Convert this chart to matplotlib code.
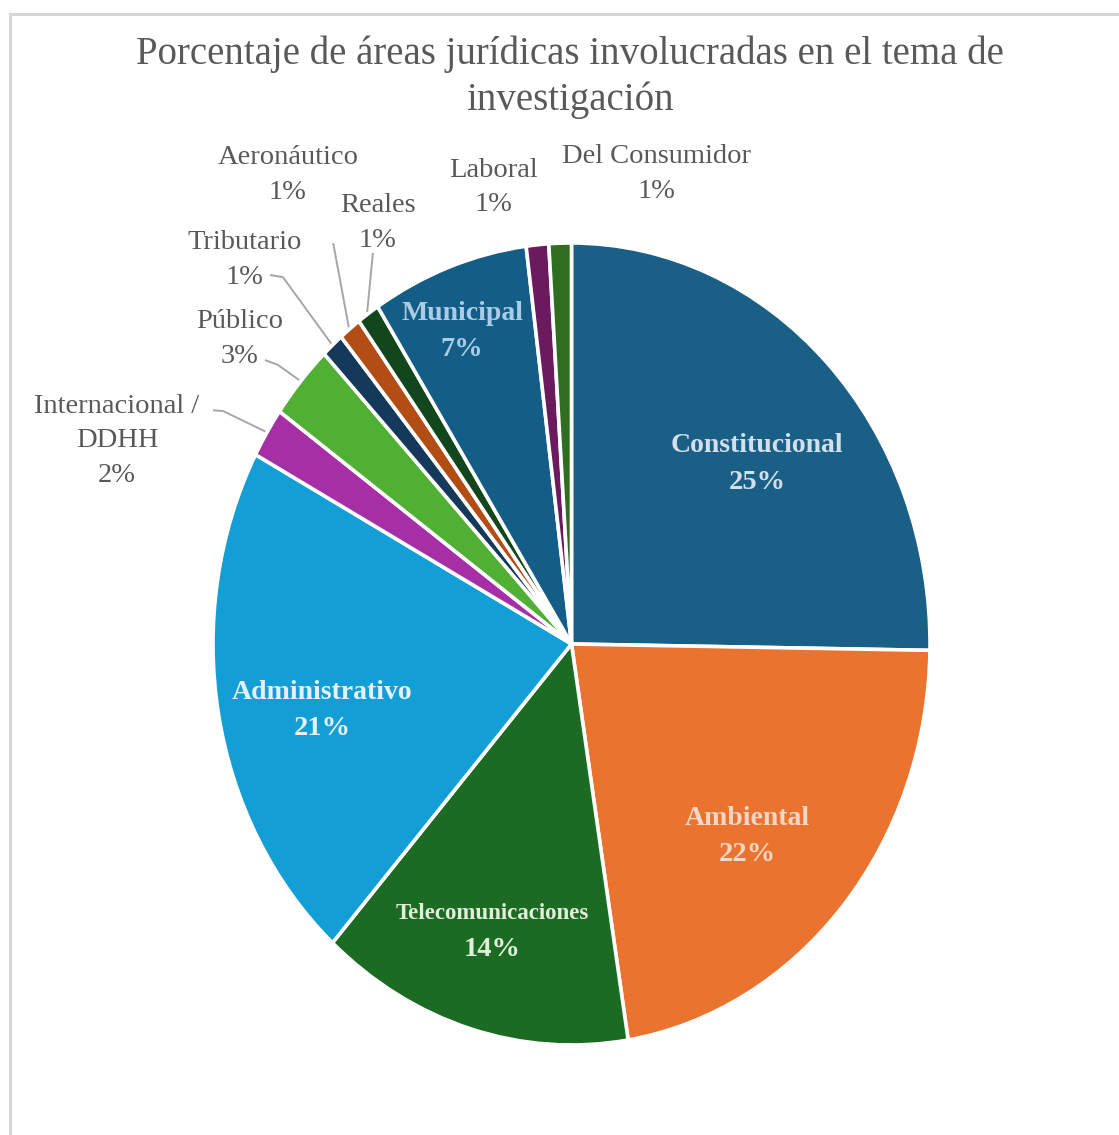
import matplotlib
matplotlib.use("Agg")
import numpy as np
import matplotlib.pyplot as plt
from matplotlib.lines import Line2D

# areas in drawing order, clockwise from 12 o'clock
categories = [
    "Constitucional",
    "Ambiental",
    "Telecomunicaciones",
    "Administrativo",
    "Internacional /\nDDHH",
    "Público",
    "Tributario",
    "Aeronáutico",
    "Reales",
    "Municipal",
    "Laboral",
    "Del Consumidor",
]
values = [25, 22, 14, 21, 2, 3, 1, 1, 1, 7, 1, 1]
colors = [
    "#1a5f85",
    "#e9732f",
    "#1c6b23",
    "#139ed6",
    "#a62fa6",
    "#4fb034",
    "#15395a",
    "#b34d16",
    "#12461c",
    "#135d86",
    "#6b1a5e",
    "#2f6e20",
]

TEXT_GRAY = "#595959"
plt.rcParams["font.family"] = ["Liberation Serif", "DejaVu Serif"]

fig = plt.figure(figsize=(11.19, 11.35), dpi=100)
ax = fig.add_axes([213 / 1119, 90 / 1135, 717 / 1119, 802 / 1135])

wedges, _ = ax.pie(
    values,
    colors=colors,
    startangle=90,
    counterclock=False,
    wedgeprops=dict(edgecolor="white", linewidth=2.6),
)
ax.set_aspect("auto")
ax.set_xlim(-1, 1)
ax.set_ylim(-1, 1)


def mid_dir(w):
    a = np.deg2rad((w.theta1 + w.theta2) / 2)
    return np.cos(a), np.sin(a)


# labels inside the big slices: centre, name size, text colour
inside = {
    "Constitucional": ((0.517, 0.449), 20, "#d3dfea"),
    "Ambiental": ((0.490, -0.481), 20, "#f6d6c4"),
    "Telecomunicaciones": ((-0.222, -0.716), 16.5, "#e2eedb"),
    "Administrativo": ((-0.696, -0.165), 20, "#e6f0f8"),
    "Municipal": ((-0.305, 0.780), 20, "#a9cde6"),
}

# labels outside the thin slices: text centre, then the leader path
outside = {
    "Internacional /\nDDHH": ((-1.268, 0.507), [(-1.017, 0.584), (-0.972, 0.581)]),
    "Público": ((-0.927, 0.760), [(-0.855, 0.708), (-0.819, 0.696)]),
    "Tributario": ((-0.911, 0.957), [(-0.841, 0.920), (-0.805, 0.915)]),
    "Aeronáutico": ((-0.791, 1.170), [(-0.724, 1.112), (-0.688, 1.112)]),
    "Reales": ((-0.540, 1.050), [(-0.554, 0.975)]),
    "Laboral": ((-0.219, 1.138), [(-0.158, 1.095), (-0.124, 1.090)]),
    "Del Consumidor": ((0.238, 1.172), [(-0.040, 1.232)]),
}

for w, name, v in zip(wedges, categories, values):
    dx, dy = mid_dir(w)
    if name in inside:
        (x, y), size, tc = inside[name]
        ax.annotate(name, (x, y), xytext=(0, 13), textcoords="offset points",
                    ha="center", va="center", fontsize=size,
                    fontweight="bold", color=tc)
        ax.annotate(f"{v}%", (x, y), xytext=(0, -13), textcoords="offset points",
                    ha="center", va="center", fontsize=20.5,
                    fontweight="bold", color=tc)
    else:
        (tx, ty), path = outside[name]
        ax.text(tx, ty, f"{name}\n{v}%", ha="center", va="center",
                fontsize=20.5, color=TEXT_GRAY, linespacing=1.5)
        pts = path + [(1.005 * dx, 1.005 * dy)]
        xs, ys = zip(*pts)
        ax.plot(xs, ys, color="#a6a6a6", lw=1.4, solid_capstyle="butt")

fig.text(0.5094, 1 - 77 / 1135,
         "Porcentaje de áreas jurídicas involucradas en el tema de\ninvestigación",
         ha="center", va="center", fontsize=28, color=TEXT_GRAY, linespacing=1.3)

# light chart-area border along the top and left
fig.add_artist(Line2D([10 / 1119, 1], [1 - 14 / 1135] * 2, color="#d6d6d6", lw=2.2))
fig.add_artist(Line2D([10 / 1119] * 2, [0, 1 - 14 / 1135], color="#d6d6d6", lw=2.2))

fig.savefig("out.png", dpi=100)
